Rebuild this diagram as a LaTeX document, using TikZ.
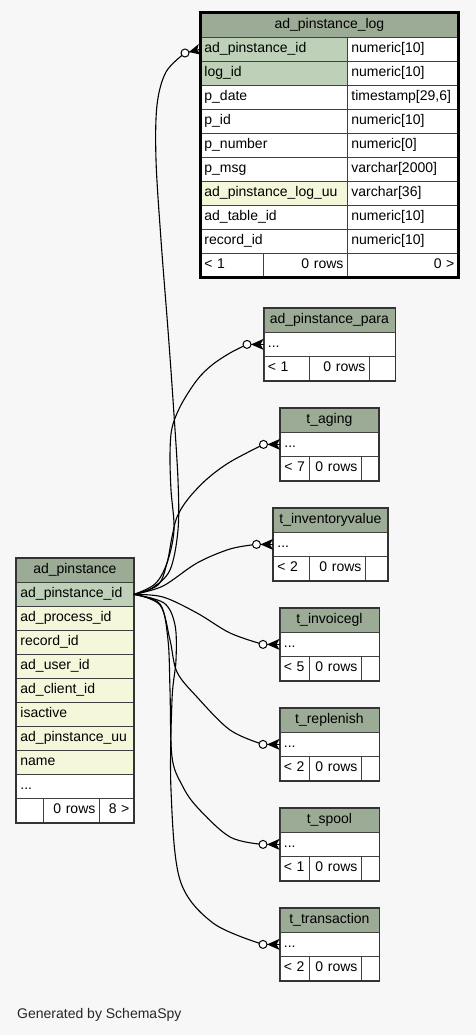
\documentclass[tikz,border=0pt]{standalone}
\usepackage{fontspec}
\setmainfont{Liberation Sans}
\usetikzlibrary{calc}
\definecolor{bg}{HTML}{F7F7F7}
\definecolor{hdr}{HTML}{9BAB96}
\definecolor{pk}{HTML}{BED1B8}
\definecolor{idx}{HTML}{F4F7DA}
\newcommand\fs{\fontsize{14}{16}\selectfont}
\tikzset{
  cell/.style={draw=black!75, line width=0.8pt, anchor=north west, minimum height=24pt,
    inner xsep=4pt, inner ysep=0pt, text height=10pt, text depth=3pt, font=\fs},
  edge/.style={line width=1.1pt, black},
  card/.style={circle, draw=black, fill=white, line width=1pt, minimum size=8pt, inner sep=0pt},
  thinframe/.style={draw=black!80, line width=1.6pt},
  thickframe/.style={draw=black, line width=3pt},
}
% align, name, x, y, w, fill, text
\newcommand\cellA[7]{\pgfmathsetmacro\cw{#5-8}\node[cell, fill=#6, text width=\cw pt, align=#1] (#2) at (#3,#4) {#7};}
% id, L, top, R, s1, s2, title, left footer text
\newcommand\smalltbl[8]{%
  \cellA{center}{#1}{#2}{#3}{#4-#2}{hdr}{#7}
  \cellA{left}{#1d}{#2}{#3+24}{#4-#2}{white}{...}
  \cellA{left}{#1a}{#2}{#3+48}{#5-#2}{white}{#8}
  \cellA{right}{#1b}{#5}{#3+48}{#6-#5}{white}{0 rows}
  \cellA{right}{#1c}{#6}{#3+48}{#4-#6}{white}{}
  \draw[thinframe] (#1.north west) rectangle (#1c.south east);
}
% circle node, target
\newcommand\crow[2]{%
  \fill ($(#1.center)!4pt!(#2)$) -- ($(#2)!5.5pt!90:(#1.center)$) -- ($(#2)!3pt!(#1.center)$) -- ($(#2)!5.5pt!-90:(#1.center)$) -- cycle;
  \draw[line width=1pt] ($(#1.center)!4pt!(#2)$) -- (#2);
}
\begin{document}
\begin{tikzpicture}[x=1pt, y=-1pt]
\fill[bg] (0,0) rectangle (476,1035);
\useasboundingbox (0,0) rectangle (476,1035);

% ---------- ad_pinstance_log ----------
\cellA{center}{log}{200}{13}{258}{hdr}{ad\_pinstance\_log}
\cellA{left}{logr1}{200}{37}{147}{pk}{ad\_pinstance\_id}
\cellA{left}{logt1}{347}{37}{111}{white}{numeric[10]}
\cellA{left}{logr2}{200}{61}{147}{pk}{log\_id}
\cellA{left}{logt2}{347}{61}{111}{white}{numeric[10]}
\cellA{left}{logr3}{200}{85}{147}{white}{p\_date}
\cellA{left}{logt3}{347}{85}{111}{white}{timestamp[29,6]}
\cellA{left}{logr4}{200}{109}{147}{white}{p\_id}
\cellA{left}{logt4}{347}{109}{111}{white}{numeric[10]}
\cellA{left}{logr5}{200}{133}{147}{white}{p\_number}
\cellA{left}{logt5}{347}{133}{111}{white}{numeric[0]}
\cellA{left}{logr6}{200}{157}{147}{white}{p\_msg}
\cellA{left}{logt6}{347}{157}{111}{white}{varchar[2000]}
\cellA{left}{logr7}{200}{181}{147}{idx}{ad\_pinstance\_log\_uu}
\cellA{left}{logt7}{347}{181}{111}{white}{varchar[36]}
\cellA{left}{logr8}{200}{205}{147}{white}{ad\_table\_id}
\cellA{left}{logt8}{347}{205}{111}{white}{numeric[10]}
\cellA{left}{logr9}{200}{229}{147}{white}{record\_id}
\cellA{left}{logt9}{347}{229}{111}{white}{numeric[10]}
\cellA{left}{logfa}{200}{253}{63}{white}{< 1}
\cellA{right}{logfb}{263}{253}{84}{white}{0 rows}
\cellA{right}{logfc}{347}{253}{111}{white}{0 >}
\draw[thickframe] (log.north west) rectangle (logfc.south east);

% ---------- ad_pinstance ----------
\cellA{center}{pin}{16}{558}{117}{hdr}{ad\_pinstance}
\cellA{left}{pid}{16}{582}{117}{pk}{ad\_pinstance\_id}
\cellA{left}{pin2}{16}{606}{117}{idx}{ad\_process\_id}
\cellA{left}{pin3}{16}{630}{117}{idx}{record\_id}
\cellA{left}{pin4}{16}{654}{117}{idx}{ad\_user\_id}
\cellA{left}{pin5}{16}{678}{117}{idx}{ad\_client\_id}
\cellA{left}{pin6}{16}{702}{117}{idx}{isactive}
\cellA{left}{pin7}{16}{726}{117}{idx}{ad\_pinstance\_uu}
\cellA{left}{pin8}{16}{750}{117}{idx}{name}
\cellA{left}{pin9}{16}{774}{117}{white}{...}
\cellA{left}{pinfa}{16}{798}{27}{white}{}
\cellA{right}{pinfb}{43}{798}{56}{white}{0 rows}
\cellA{right}{pinfc}{99}{798}{34}{white}{8 >}
\draw[thinframe] (pin.north west) rectangle (pinfc.south east);

% ---------- small tables ----------
\smalltbl{para}{263.5}{308}{394.5}{309}{369}{ad\_pinstance\_para}{< 1}
\smalltbl{aging}{280}{408}{378}{309}{361}{t\_aging}{< 7}
\smalltbl{inv}{273}{508}{387}{309}{365}{t\_inventoryvalue}{< 2}
\smalltbl{igl}{279.5}{608}{378.5}{309}{361}{t\_invoicegl}{< 5}
\smalltbl{rep}{279.5}{708}{378.5}{309}{361}{t\_replenish}{< 2}
\smalltbl{spool}{279.5}{808}{378.5}{309}{361}{t\_spool}{< 1}
\smalltbl{trx}{279.5}{908}{378.5}{309}{361}{t\_transaction}{< 2}

% ---------- circle positions ----------
\coordinate (cLog) at (185,53);
\coordinate (cPara) at ($(parad.west)+(-16.5,0)$);
\coordinate (cAging) at ($(agingd.west)+(-16.5,0)$);
\coordinate (cInv) at ($(invd.west)+(-16.5,0)$);
\coordinate (cIgl) at ($(igld.west)+(-16.5,0)$);
\coordinate (cRep) at ($(repd.west)+(-16.5,0)$);
\coordinate (cSpool) at ($(spoold.west)+(-16.5,0)$);
\coordinate (cTrx) at ($(trxd.west)+(-16.5,0)$);

% ---------- edges ----------
\draw[edge] plot[smooth, tension=0.55] coordinates {(pid.east) (152,588) (170,570) (178,530) (178,480) (173,400) (168,330) (161,240) (156,160) (157,105) (166,72) (cLog)};
\draw[edge] plot[smooth, tension=0.55] coordinates {(pid.east) (155,584) (167,563) (174,530) (171,490) (170,455) (172,428) (181,405) (197,380) (212,365) (230,353) (cPara)};
\draw[edge] plot[smooth, tension=0.55] coordinates {(pid.east) (158,585) (167,563) (172,537) (177,517) (188,499) (207,479) (230,462) (cAging)};
\draw[edge] plot[smooth, tension=0.55] coordinates {(pid.east) (163,586) (197,563) (230,549) (cInv)};
\draw[edge] plot[smooth, tension=0.55] coordinates {(pid.east) (163,597) (197,613) (230,633) (cIgl)};
\draw[edge] plot[smooth, tension=0.55] coordinates {(pid.east) (160,605) (170,640) (177,672) (197,697) (230,730) (cRep)};
\draw[edge] plot[smooth, tension=0.55] coordinates {(pid.east) (160,604) (168,640) (170,690) (172,757) (182,785) (197,807) (230,837) (cSpool)};
\draw[edge] plot[smooth, tension=0.55] coordinates {(pid.east) (164,603) (175,625) (176,660) (172,700) (171,790) (180,880) (213,923) (cTrx)};

% ---------- cardinality marks ----------
\node[card] (kLog) at (cLog) {};
\node[card] (kPara) at (cPara) {};
\node[card] (kAging) at (cAging) {};
\node[card] (kInv) at (cInv) {};
\node[card] (kIgl) at (cIgl) {};
\node[card] (kRep) at (cRep) {};
\node[card] (kSpool) at (cSpool) {};
\node[card] (kTrx) at (cTrx) {};
\crow{kLog}{logr1.west}
\crow{kPara}{parad.west}
\crow{kAging}{agingd.west}
\crow{kInv}{invd.west}
\crow{kIgl}{igld.west}
\crow{kRep}{repd.west}
\crow{kSpool}{spoold.west}
\crow{kTrx}{trxd.west}

\node[anchor=west, font=\fs, inner sep=0pt, text=black!85] (gen) at (17,1015) {Generated by SchemaSpy};
\end{tikzpicture}
\end{document}
